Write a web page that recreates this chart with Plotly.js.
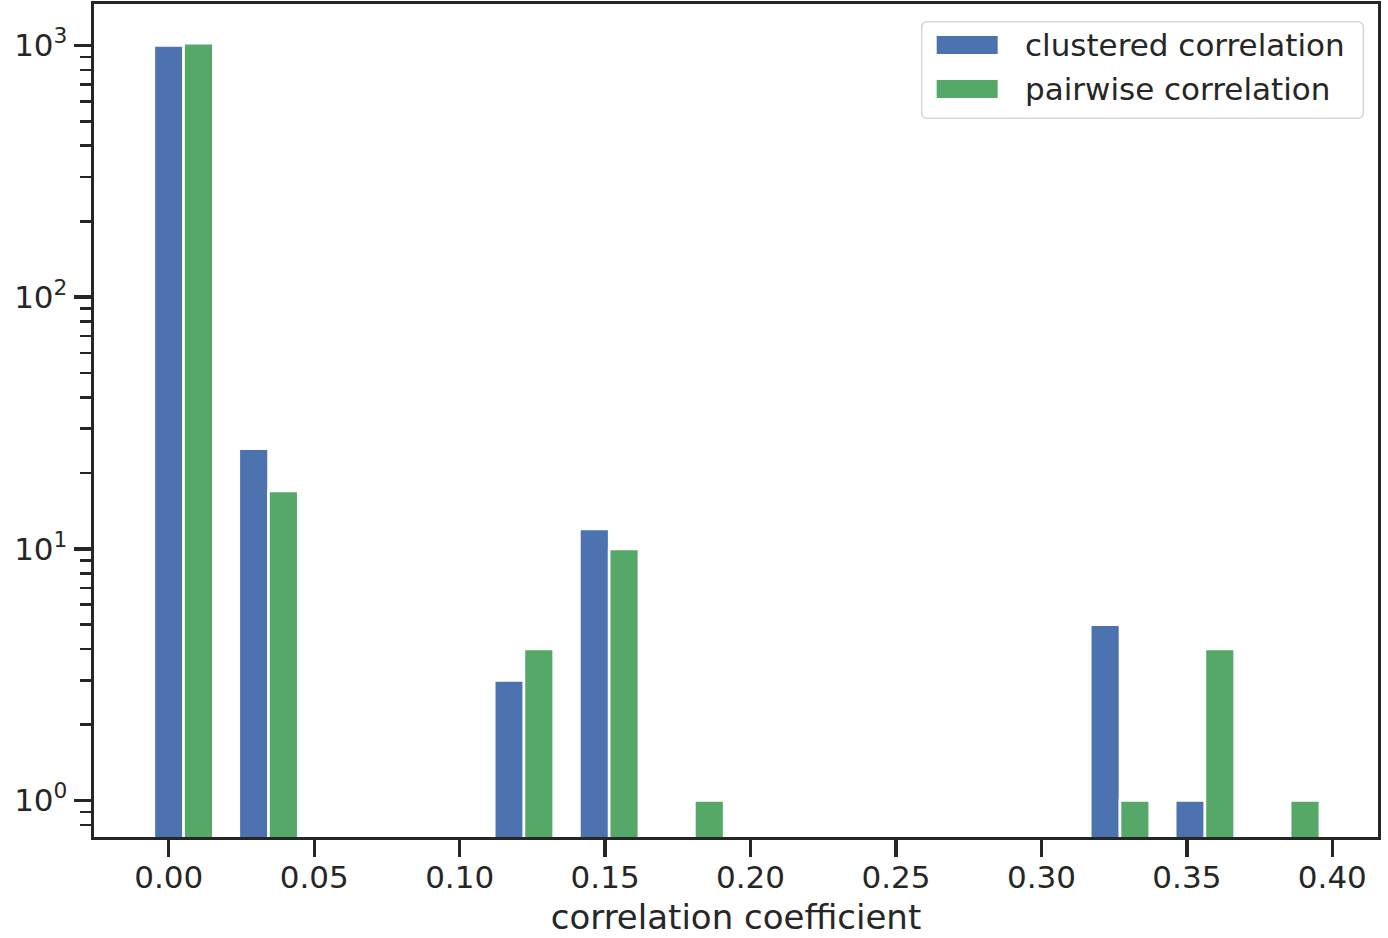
<!DOCTYPE html>
<html>
<head>
<meta charset="utf-8">
<script src="https://cdn.plot.ly/plotly-3.0.1.min.js"></script>
<style>
  html, body { margin: 0; padding: 0; background: #ffffff; }
  #chart { width: 1388px; height: 938px; }
</style>
</head>
<body>
<div id="chart"></div>
<script>
// Histogram of correlation coefficients: 14 equal bins, counts per bin.
const binCenters = [0.0051, 0.0343, 0.0636, 0.0929, 0.1221, 0.1514, 0.1807,
                    0.2099, 0.2392, 0.2685, 0.2977, 0.3270, 0.3562, 0.3855];
const clusteredCounts = [1000, 25, 0, 0, 3, 12, 0, 0, 0, 0, 0, 5, 1, 0];
const pairwiseCounts  = [1022, 17, 0, 0, 4, 10, 1, 0, 0, 0, 0, 1, 4, 1];
const seriesNames  = ['clustered correlation', 'pairwise correlation'];
const seriesColors = ['#4C72B0', '#55A868'];

const xTickVals = [0, 0.05, 0.10, 0.15, 0.20, 0.25, 0.30, 0.35, 0.40];
const xTickText = ['0.00', '0.05', '0.10', '0.15', '0.20', '0.25', '0.30', '0.35', '0.40'];
const yTickVals = [1, 10, 100, 1000];
const yTickText = ['10<sup>0</sup>', '10<sup>1</sup>', '10<sup>2</sup>', '10<sup>3</sup>'];
const yMinorVals = [0.8, 0.9, 2, 3, 4, 5, 6, 7, 8, 9, 20, 30, 40, 50, 60, 70, 80, 90,
                    200, 300, 400, 500, 600, 700, 800, 900];

const FONT = 'DejaVu Sans, sans-serif';
const INK = '#262626';

// empty bins cannot sit on a log axis, so leave them out
const onLog = arr => arr.map(v => (v > 0 ? v : null));

const traces = [clusteredCounts, pairwiseCounts].map((counts, i) => ({
  type: 'bar',
  name: seriesNames[i],
  x: binCenters,
  y: onLog(counts),
  marker: { color: seriesColors[i], line: { color: '#ffffff', width: 2.6 } },
  showlegend: false,
  hoverinfo: 'x+y+name'
}));

// legend drawn as a framed box with wide colour swatches
const box = { x0: 0.6446, x1: 0.9886, y0: 0.8628, y1: 0.9788 };
const rx = 6 / 1284, ry = 6 / 833;
const roundedBox =
  `M ${box.x0 + rx},${box.y0} L ${box.x1 - rx},${box.y0} Q ${box.x1},${box.y0} ${box.x1},${box.y0 + ry} ` +
  `L ${box.x1},${box.y1 - ry} Q ${box.x1},${box.y1} ${box.x1 - rx},${box.y1} ` +
  `L ${box.x0 + rx},${box.y1} Q ${box.x0},${box.y1} ${box.x0},${box.y1 - ry} ` +
  `L ${box.x0},${box.y0 + ry} Q ${box.x0},${box.y0} ${box.x0 + rx},${box.y0} Z`;
const rowCenters = [0.9508, 0.8980];
const swatchHalf = 9 / 833;

const shapes = [{
  type: 'path', xref: 'paper', yref: 'paper', path: roundedBox,
  line: { color: '#d6d6d6', width: 1.5 }, fillcolor: 'rgba(255,255,255,0.8)', layer: 'above'
}];
const annotations = [];
seriesNames.forEach((name, i) => {
  shapes.push({
    type: 'rect', xref: 'paper', yref: 'paper', layer: 'above',
    x0: 0.6563, x1: 0.7038,
    y0: rowCenters[i] - swatchHalf, y1: rowCenters[i] + swatchHalf,
    fillcolor: seriesColors[i], line: { width: 0 }
  });
  annotations.push({
    xref: 'paper', yref: 'paper', x: 0.7236, y: rowCenters[i],
    xanchor: 'left', yanchor: 'middle', showarrow: false,
    text: name, font: { family: FONT, size: 31, color: INK }
  });
});

const layout = {
  width: 1388, height: 938,
  margin: { l: 94, r: 10, t: 4, b: 101, pad: 0 },
  paper_bgcolor: '#ffffff', plot_bgcolor: '#ffffff',
  barmode: 'group', bargap: 0.30, bargroupgap: 0,
  font: { family: FONT, color: INK },
  xaxis: {
    range: [-0.0257, 0.4157],
    tickmode: 'array', tickvals: xTickVals, ticktext: xTickText,
    ticks: 'outside', ticklen: 17, tickwidth: 3.4, tickcolor: INK,
    ticklabelstandoff: -7,
    tickfont: { family: FONT, size: 31, color: INK },
    showline: true, linecolor: INK, linewidth: 3.4, mirror: true,
    showgrid: false, zeroline: false,
    title: { text: 'correlation coefficient', font: { family: FONT, size: 34, color: INK }, standoff: 12 }
  },
  yaxis: {
    type: 'log', range: [-0.145, 3.165],
    tickmode: 'array', tickvals: yTickVals, ticktext: yTickText,
    ticks: 'outside', ticklen: 17, tickwidth: 3.4, tickcolor: INK,
    tickfont: { family: FONT, size: 31, color: INK },
    minor: { tickmode: 'array', tickvals: yMinorVals, ticks: 'outside',
             ticklen: 11, tickwidth: 2.6, tickcolor: INK, showgrid: false },
    showline: true, linecolor: INK, linewidth: 3.4, mirror: true,
    showgrid: false, zeroline: false
  },
  shapes: shapes,
  annotations: annotations,
  showlegend: false
};

Plotly.newPlot('chart', traces, layout, { displayModeBar: false, staticPlot: true });
</script>
</body>
</html>
